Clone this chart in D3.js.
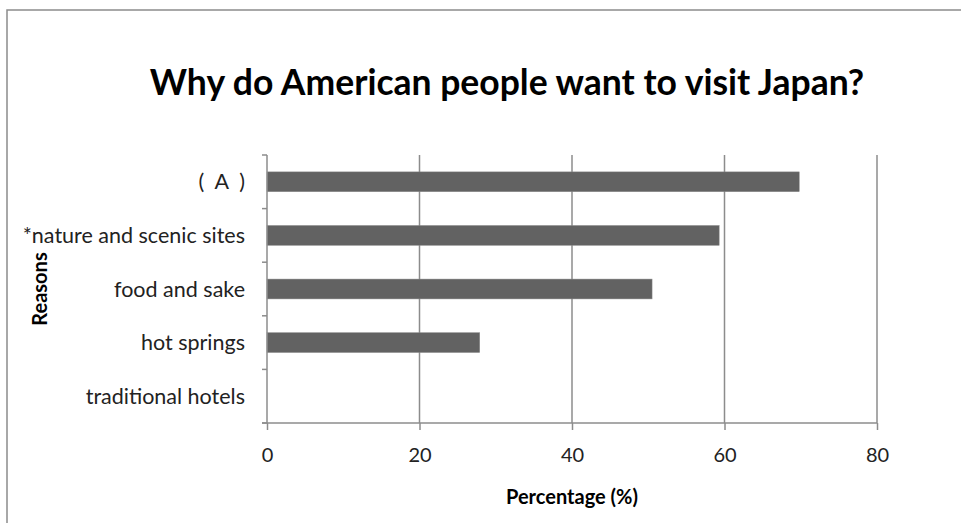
<!DOCTYPE html>
<html>
<head>
<meta charset="utf-8">
<script src="https://cdn.jsdelivr.net/npm/d3@7"></script>
<style>
  body { margin: 0; background: #fff; }
  text { font-family: Lato, "Open Sans", sans-serif; white-space: pre; }
</style>
</head>
<body>
<div id="chart"></div>
<script>
// reasons, top to bottom
var reasons = ["(  A  )", "*nature and scenic sites", "food and sake", "hot springs", "traditional hotels"];
var percents = [69.8, 59.3, 50.5, 27.9, 0];
var xTicks = [0, 20, 40, 60, 80];

var width = 961, height = 523;
var margin = { top: 155, right: 84, bottom: 100, left: 267 };

var svg = d3.select("#chart").append("svg")
  .attr("width", width)
  .attr("height", height);

// outer frame (runs off the right and bottom of the picture)
svg.append("rect")
  .attr("x", 7).attr("y", 10)
  .attr("width", 1000).attr("height", 600)
  .attr("fill", "none")
  .attr("stroke", "#8c8c8c")
  .attr("stroke-width", 1.5);

var x = d3.scaleLinear().domain([0, 80]).range([margin.left, width - margin.right]);
var y = d3.scaleBand().domain(reasons)
  .range([margin.top, height - margin.bottom])
  .paddingInner(0.63).paddingOuter(0.315);

var lineColor = "#8c8c8c";

// vertical gridlines
svg.append("g")
  .selectAll("line")
  .data(xTicks.slice(1))
  .join("line")
  .attr("x1", d => x(d)).attr("x2", d => x(d))
  .attr("y1", margin.top).attr("y2", height - margin.bottom)
  .attr("stroke", lineColor)
  .attr("stroke-width", 1.5);

// bars
svg.append("g")
  .selectAll("rect")
  .data(reasons)
  .join("rect")
  .attr("x", x(0))
  .attr("y", d => y(d))
  .attr("height", y.bandwidth())
  .attr("width", (d, i) => x(percents[i]) - x(0))
  .attr("fill", "#626262")
  .attr("stroke", "#8a8a8a")
  .attr("stroke-width", 0.5);

// x axis
var xAxis = svg.append("g")
  .attr("transform", `translate(0,${height - margin.bottom})`)
  .call(d3.axisBottom(x).tickValues(xTicks).tickSize(7).tickPadding(18));
xAxis.select(".domain").attr("stroke", lineColor).attr("stroke-width", 1.5)
  .attr("d", `M${x(0) - 5},0H${x(80)}`);
xAxis.selectAll(".tick line").attr("stroke", lineColor).attr("stroke-width", 1.5);
xAxis.selectAll("text").attr("font-size", 20).attr("fill", "#222")
  .style("font-family", "Lato, sans-serif");

// y axis: ticks sit on the category boundaries
var yg = svg.append("g");
yg.append("line")
  .attr("x1", x(0)).attr("x2", x(0))
  .attr("y1", margin.top).attr("y2", height - margin.bottom)
  .attr("stroke", lineColor).attr("stroke-width", 1.5);
var bounds = reasons.map(d => y(d) - y.step() * y.paddingInner() / 2)
  .concat([height - margin.bottom]);
yg.selectAll(".yt")
  .data(bounds)
  .join("line")
  .attr("class", "yt")
  .attr("x1", x(0) - 5).attr("x2", x(0))
  .attr("y1", d => d).attr("y2", d => d)
  .attr("stroke", lineColor).attr("stroke-width", 1.5);
yg.selectAll("text")
  .data(reasons)
  .join("text")
  .attr("x", x(0) - 22)
  .attr("y", d => y(d) + y.bandwidth() / 2)
  .attr("dy", "0.35em")
  .attr("text-anchor", "end")
  .attr("font-size", 21.5)
  .attr("fill", "#222")
  .text(d => d);

// title
svg.append("text")
  .attr("x", 507).attr("y", 83)
  .attr("dy", "0.35em")
  .attr("text-anchor", "middle")
  .attr("font-size", 35.5)
  .attr("font-weight", "bold")
  .attr("fill", "#000")
  .text("Why do American people want to visit Japan?");

// axis titles
svg.append("text")
  .attr("x", (x(0) + x(80)) / 2).attr("y", 497)
  .attr("dy", "0.35em")
  .attr("text-anchor", "middle")
  .attr("font-size", 20)
  .attr("font-weight", "bold")
  .text("Percentage (%)");

svg.append("text")
  .attr("transform", `translate(40,${(margin.top + height - margin.bottom) / 2}) rotate(-90)`)
  .attr("dy", "0.35em")
  .attr("text-anchor", "middle")
  .attr("font-size", 20)
  .attr("font-weight", "bold")
  .text("Reasons");
</script>
</body>
</html>
